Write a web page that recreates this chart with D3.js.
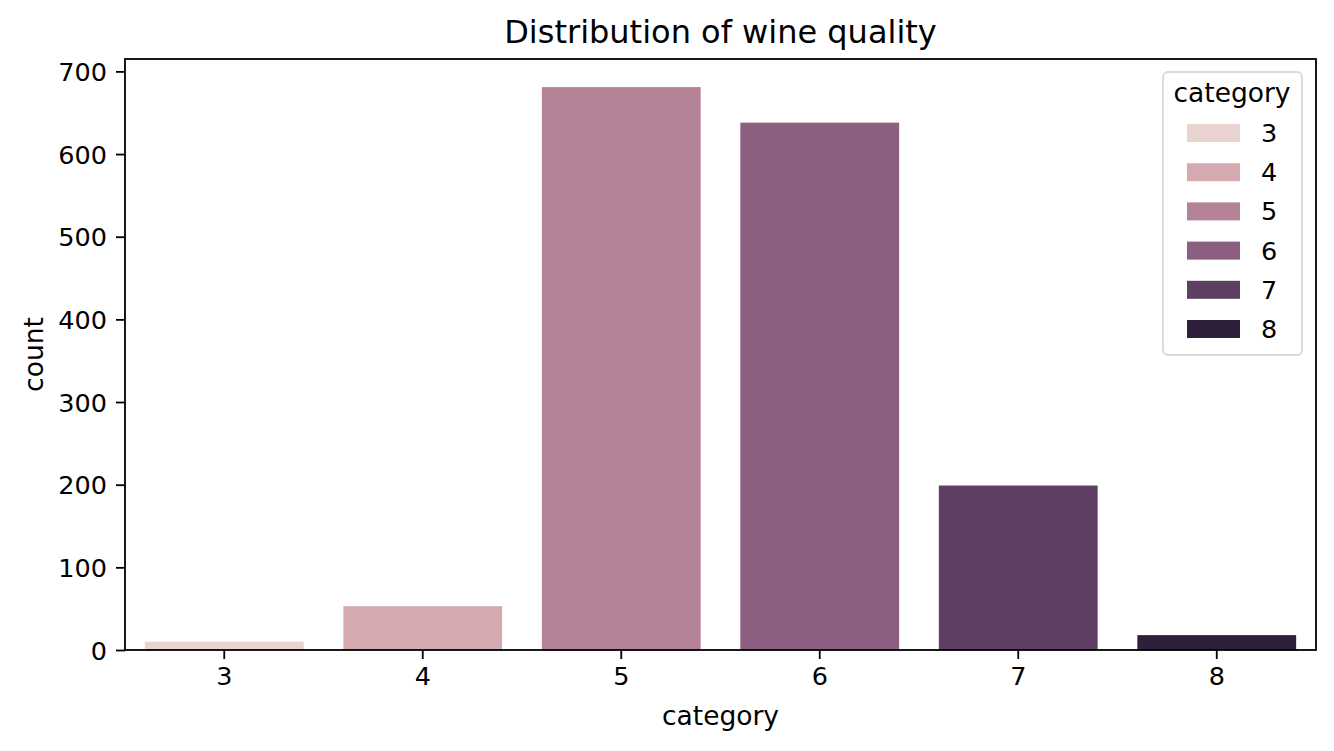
<!DOCTYPE html>
<html>
<head>
<meta charset="utf-8">
<script src="https://cdn.jsdelivr.net/npm/d3@7"></script>
<style>
  body { margin: 0; background: #fff; }
  text { font-family: "DejaVu Sans", sans-serif; fill: #000; }
</style>
</head>
<body>
<div id="chart-area"></div>
<script>
// Data
var categories = ["3", "4", "5", "6", "7", "8"];
var counts = [10, 53, 681, 638, 199, 18];
var barColors = ["#e9d3cf", "#d4aab0", "#b48398", "#8c5f80", "#5e3f63", "#2e1f3a"];
var yTicks = [0, 100, 200, 300, 400, 500, 600, 700];

var W = 1334, H = 751;
var margin = { left: 125, right: 18, top: 59, bottom: 101 },
    width = W - margin.left - margin.right,
    height = H - margin.top - margin.bottom;
var fs = "25.5px";

var svg = d3.select("#chart-area")
  .append("svg")
    .attr("width", W)
    .attr("height", H);

var g = svg.append("g")
    .attr("transform", "translate(" + margin.left + "," + margin.top + ")");

// Scales
var x = d3.scaleBand().domain(categories).range([0, width]).paddingInner(0.2).paddingOuter(0.1);
var y = d3.scaleLinear().domain([0, 715]).range([height, 0]);
var color = d3.scaleOrdinal().domain(categories).range(barColors);

// Bars
g.selectAll(".bar")
  .data(categories)
  .enter().append("rect")
    .attr("class", "bar")
    .attr("x", d => x(d))
    .attr("width", x.bandwidth())
    .attr("y", (d, i) => y(counts[i]))
    .attr("height", (d, i) => height - y(counts[i]))
    .attr("fill", d => color(d));

// Axes
var xAxis = g.append("g")
    .attr("transform", "translate(0," + height + ")")
    .call(d3.axisBottom(x).tickSize(9).tickPadding(8));
var yAxis = g.append("g")
    .call(d3.axisLeft(y).tickValues(yTicks).tickSize(9).tickPadding(9));

[xAxis, yAxis].forEach(function(a) {
  a.attr("font-size", null).attr("font-family", null);
  a.selectAll("text").attr("font-size", fs);
  a.selectAll("line").attr("stroke", "#000").attr("stroke-width", 1.8);
  a.select(".domain").remove();
});
yAxis.selectAll("text").attr("dy", "0.36em");

// Frame
g.append("rect")
  .attr("width", width)
  .attr("height", height)
  .attr("fill", "none")
  .attr("stroke", "#000")
  .attr("stroke-width", 1.8);

// Labels
svg.append("text")
  .attr("x", margin.left + width / 2)
  .attr("y", 43)
  .attr("text-anchor", "middle")
  .attr("font-size", "32px")
  .text("Distribution of wine quality");

svg.append("text")
  .attr("x", margin.left + width / 2)
  .attr("y", 725)
  .attr("text-anchor", "middle")
  .attr("font-size", "26.5px")
  .text("category");

svg.append("text")
  .attr("transform", "rotate(-90)")
  .attr("x", -(margin.top + height / 2))
  .attr("y", 43)
  .attr("text-anchor", "middle")
  .attr("font-size", "26.5px")
  .text("count");

// Legend
var legend = svg.append("g").attr("transform", "translate(1163,72)");
legend.append("rect")
  .attr("width", 139)
  .attr("height", 283)
  .attr("rx", 5)
  .attr("fill", "#fff")
  .attr("fill-opacity", 0.8)
  .attr("stroke", "#d9d9d9")
  .attr("stroke-width", 1.8);
legend.append("text")
  .attr("x", 69)
  .attr("y", 30)
  .attr("text-anchor", "middle")
  .attr("font-size", "26.5px")
  .text("category");

var items = legend.selectAll(".item")
  .data(categories)
  .enter().append("g")
    .attr("class", "item")
    .attr("transform", (d, i) => "translate(0," + (61 + i * 39.2) + ")");
items.append("rect")
  .attr("x", 24)
  .attr("y", -9)
  .attr("width", 53)
  .attr("height", 18)
  .attr("fill", d => color(d));
items.append("text")
  .attr("x", 98)
  .attr("y", 9)
  .attr("font-size", fs)
  .text(d => d);
</script>
</body>
</html>
